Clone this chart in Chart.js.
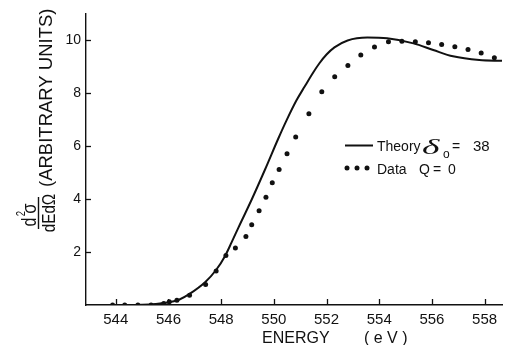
<!DOCTYPE html>
<html>
<head>
<meta charset="utf-8">
<script src="https://cdn.jsdelivr.net/npm/chart.js@4.4.1/dist/chart.umd.min.js"></script>
<style>
  html, body { margin: 0; padding: 0; background: #fff; }
  #wrap { width: 506px; height: 345px; position: relative; }
</style>
</head>
<body>
<div id="wrap"><canvas id="chart" width="506" height="345"></canvas></div>
<script>
// theory curve, delta_0 = 38
const theoryEnergy = [543.9, 544.5, 545.0, 545.5, 546.0, 546.4, 546.8, 547.4, 547.8, 548.16, 548.4, 548.66, 549.16, 549.67, 550.17, 550.5, 550.86, 551.17, 551.5, 551.73, 552.0, 552.3, 552.8, 553.55, 554.3, 555.3, 556.05, 556.8, 557.8, 558.66];
const theorySigma  = [0.0, 0.0, 0.01, 0.04, 0.1, 0.2, 0.42, 0.87, 1.31, 1.87, 2.37, 2.93, 3.98, 5.12, 6.28, 7.0, 7.72, 8.24, 8.78, 9.12, 9.45, 9.72, 9.98, 10.09, 10.06, 9.87, 9.62, 9.38, 9.24, 9.21];

// measured points, Q = 0
const dataEnergy = [543.88, 544.34, 544.84, 545.34, 545.82, 546.03, 546.32, 546.8, 547.41, 547.81, 548.18, 548.54, 548.94, 549.16, 549.44, 549.7, 549.94, 550.2, 550.5, 550.83, 551.33, 551.82, 552.31, 552.81, 553.3, 553.82, 554.35, 554.86, 555.37, 555.87, 556.37, 556.87, 557.37, 557.87, 558.37];
const dataSigma  = [0.0, 0.0, 0.0, 0.0, 0.06, 0.12, 0.18, 0.37, 0.77, 1.28, 1.87, 2.15, 2.58, 3.03, 3.56, 4.06, 4.61, 5.11, 5.71, 6.34, 7.21, 8.04, 8.61, 9.03, 9.43, 9.73, 9.93, 9.95, 9.93, 9.89, 9.83, 9.74, 9.64, 9.51, 9.33];

const xTicks = [544, 546, 548, 550, 552, 554, 556, 558];
const yTicks = [2, 4, 6, 8, 10];

const ink = '#111';
const sans = '"Liberation Sans", Arial, sans-serif';

// inward tick marks, titles and the legend
const decor = {
    id: 'decor',
    afterDraw(chart) {
        const ctx = chart.ctx;
        const xs = chart.scales.x, ys = chart.scales.y;
        const area = chart.chartArea;
        ctx.save();
        ctx.strokeStyle = ink;
        ctx.lineWidth = 1.3;
        xTicks.forEach(v => {
            const px = Math.round(xs.getPixelForValue(v)) + 0.5;
            ctx.beginPath();
            ctx.moveTo(px, area.bottom);
            ctx.lineTo(px, area.bottom - 6);
            ctx.stroke();
        });
        yTicks.forEach(v => {
            const py = Math.round(ys.getPixelForValue(v)) + 0.5;
            ctx.beginPath();
            ctx.moveTo(area.left, py);
            ctx.lineTo(area.left + 5, py);
            ctx.stroke();
        });

        ctx.fillStyle = ink;
        ctx.textBaseline = 'alphabetic';

        // x title
        ctx.font = '16px ' + sans;
        ctx.textAlign = 'left';
        ctx.fillText('ENERGY', 262, 343);
        ctx.fillText('( e V )', 364, 343);

        // y title, rotated
        ctx.save();
        ctx.translate(38, 213);
        ctx.rotate(-Math.PI / 2);
        ctx.lineWidth = 1.4;
        ctx.beginPath();
        ctx.moveTo(-16, 0.5);
        ctx.lineTo(16, 0.5);
        ctx.stroke();
        ctx.save();
        ctx.scale(0.8, 1);
        ctx.font = '20px ' + sans;
        ctx.textAlign = 'left';
        ctx.fillText('d', -17, -2);
        ctx.font = '12px ' + sans;
        ctx.fillText('2', -4, -13);
        ctx.font = '21px ' + sans;
        ctx.fillText('σ', -1, -2);
        ctx.font = '19px ' + sans;
        ctx.textAlign = 'center';
        ctx.fillText('dEdΩ', 0, 17);
        ctx.restore();
        ctx.font = '18.5px ' + sans;
        ctx.textAlign = 'left';
        ctx.fillText('(ARBITRARY UNITS)', 26, 14);
        ctx.restore();

        // legend
        const th = chart.data.datasets[0], dd = chart.data.datasets[1];
        ctx.strokeStyle = th.borderColor;
        ctx.lineWidth = th.borderWidth;
        ctx.beginPath();
        ctx.moveTo(345, 145.5);
        ctx.lineTo(373, 145.5);
        ctx.stroke();
        ctx.fillStyle = dd.backgroundColor;
        [347, 357, 367].forEach(px => {
            ctx.beginPath();
            ctx.arc(px, 168, dd.pointRadius, 0, Math.PI * 2);
            ctx.fill();
        });
        ctx.fillStyle = ink;
        ctx.textAlign = 'left';
        ctx.font = '14px ' + sans;
        ctx.fillText('Theory', 377, 151);
        ctx.fillText('Data', 377, 174);
        ctx.fillText('Q', 419, 174);
        ctx.fillText('=', 433, 174);
        ctx.fillText('0', 448, 174);
        ctx.save();
        ctx.translate(422, 154);
        ctx.scale(1.7, 1);
        ctx.font = 'italic 22px "Liberation Serif", serif';
        ctx.fillText('δ', 0, 0);
        ctx.restore();
        ctx.font = '12px ' + sans;
        ctx.fillText('o', 443, 158);
        ctx.font = '14px ' + sans;
        ctx.fillText('=', 452, 151);
        ctx.font = '15px ' + sans;
        ctx.fillText('38', 473, 151);
        ctx.restore();
    }
};

const theoryPts = theoryEnergy.map((e, i) => ({ x: e, y: theorySigma[i] }));
const dataPts = dataEnergy.map((e, i) => ({ x: e, y: dataSigma[i] }));

new Chart(document.getElementById('chart'), {
    type: 'scatter',
    data: {
        datasets: [
            {
                label: 'Theory',
                data: theoryPts,
                showLine: true,
                borderColor: ink,
                backgroundColor: ink,
                borderWidth: 2,
                pointRadius: 0,
                cubicInterpolationMode: 'monotone'
            },
            {
                label: 'Data Q = 0',
                data: dataPts,
                showLine: false,
                borderColor: ink,
                backgroundColor: ink,
                pointRadius: 2.5,
                pointBorderWidth: 0
            }
        ]
    },
    options: {
        responsive: false,
        animation: false,
        devicePixelRatio: 1,
        layout: { padding: { top: 11, right: 0, left: 0, bottom: 0 } },
        plugins: {
            legend: { display: false },
            tooltip: { enabled: false }
        },
        scales: {
            x: {
                type: 'linear',
                min: 542.87,
                max: 558.66,
                grid: { display: false, drawTicks: false },
                border: { display: true, color: ink, width: 1.4 },
                afterBuildTicks: axis => { axis.ticks = xTicks.map(v => ({ value: v })); },
                afterFit: axis => { axis.height = 40; },
                ticks: {
                    color: ink,
                    padding: 6,
                    maxRotation: 0,
                    autoSkip: false,
                    font: { family: sans, size: 15 },
                    callback: v => String(v)
                }
            },
            y: {
                type: 'linear',
                min: 0,
                max: 11,
                grid: { display: false, drawTicks: false },
                border: { display: true, color: ink, width: 1.4 },
                afterBuildTicks: axis => { axis.ticks = yTicks.map(v => ({ value: v })); },
                afterFit: axis => { axis.width = 86; },
                ticks: {
                    color: ink,
                    padding: 5,
                    font: { family: sans, size: 14 },
                    callback: v => String(v)
                }
            }
        }
    },
    plugins: [decor]
});
</script>
</body>
</html>
